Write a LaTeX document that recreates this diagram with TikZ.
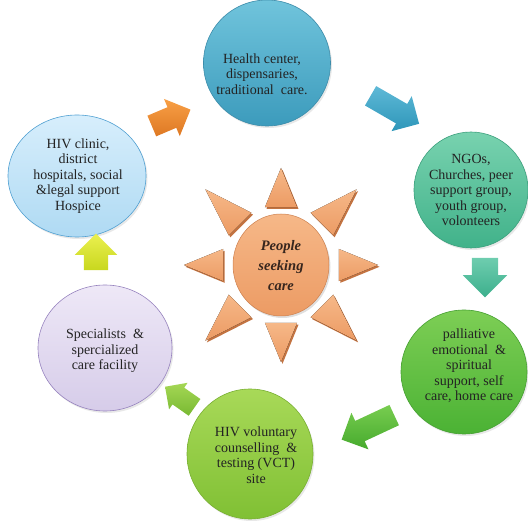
\documentclass[tikz,border=0pt]{standalone}
\usepackage{fontspec}
\setmainfont{Liberation Serif}
\usetikzlibrary{shapes.geometric,shapes.arrows,shadows}
\definecolor{txt}{RGB}{35,35,35}
\definecolor{hcT}{RGB}{112,196,220}\definecolor{hcB}{RGB}{60,155,188}\definecolor{hcE}{RGB}{60,140,170}
\definecolor{ngT}{RGB}{120,210,175}\definecolor{ngB}{RGB}{65,178,138}\definecolor{ngE}{RGB}{60,160,125}
\definecolor{paT}{RGB}{125,206,85}\definecolor{paB}{RGB}{75,178,52}\definecolor{paE}{RGB}{70,160,50}
\definecolor{vcT}{RGB}{168,217,88}\definecolor{vcB}{RGB}{128,192,52}\definecolor{vcE}{RGB}{120,175,50}
\definecolor{spT}{RGB}{238,232,247}\definecolor{spB}{RGB}{214,204,233}\definecolor{spE}{RGB}{150,130,190}
\definecolor{hvT}{RGB}{215,238,252}\definecolor{hvB}{RGB}{175,218,243}\definecolor{hvE}{RGB}{80,160,210}
\definecolor{suT}{RGB}{246,184,136}\definecolor{suB}{RGB}{236,155,100}\definecolor{suE}{RGB}{205,128,78}
\definecolor{suS}{RGB}{195,115,65}
\tikzset{
  bubble/.style={ellipse, inner sep=0pt, draw=#1E, line width=0.6pt, top color=#1T, bottom color=#1B,
     drop shadow={opacity=0.18, shadow xshift=1.5pt, shadow yshift=-2pt}},
  btext/.style={align=center, text=txt, font=\fontsize{14}{15.5}\selectfont, inner sep=0pt},
  barrow/.style={single arrow, draw=none, single arrow head extend=#1},
}
\begin{document}
\begin{tikzpicture}[x=1pt,y=-1pt]
\useasboundingbox (0,0) rectangle (528,521);
% circles
\node[bubble=hc, minimum width=127pt, minimum height=126pt] (hc) at (267,63) {};
\node[bubble=ng, minimum width=114pt, minimum height=116pt] (ng) at (471,190) {};
\node[bubble=pa, minimum width=126pt, minimum height=124pt] (pa) at (464,372) {};
\node[bubble=vc, minimum width=126pt, minimum height=130pt] (vc) at (250,454) {};
\node[bubble=sp, minimum width=134pt, minimum height=126pt] (sp) at (105,348) {};
\node[bubble=hv, minimum width=138pt, minimum height=122pt] (hv) at (77,176) {};
% texts
\node[btext] (thc) at (262,74) {Health center,\\dispensaries,\\traditional\ \ care.};
\node[btext] (tng) at (471,190) {NGOs,\\Churches, peer\\support group,\\youth group,\\volonteers};
\node[btext] (tpa) at (469,366) {palliative\\emotional\ \ \&\\spiritual\\support,\ self\\care, home care};
\node[btext] (tvc) at (256,455) {HIV voluntary\\counselling\ \ \&\\testing (VCT)\\site};
\node[btext] (tsp) at (105,351) {Specialists\ \ \&\\spercialized\\care facility};
\node[btext] (thv) at (78,176) {HIV clinic,\\district\\hospitals,\ social\\\&legal support\\Hospice};
% sun rays
\begin{scope}[shift={(281,265)}]
  \foreach \a/\R in {0/97,90/97,180/97,270/97,45/107,135/107,225/107,315/107}{
    \fill[suS] ([shift={(1.5,1.8)}]\a:\R) -- ([shift={(1.5,1.8)}]\a+15.5:60) -- ([shift={(1.5,1.8)}]\a-15.5:60) -- cycle;
    \fill[top color=suT, bottom color=suB] (\a:\R) -- (\a+15.5:60) -- (\a-15.5:60) -- cycle;
  }
\end{scope}
\node[ellipse, minimum width=96pt, minimum height=102pt, top color=suT, bottom color=suB, draw=suE, line width=0.5pt,
  drop shadow={opacity=0.25, shadow xshift=1.5pt, shadow yshift=-2pt}] (sun) at (281,265) {};
\node[align=center, text={rgb,255:red,55;green,38;blue,30}, font=\fontsize{14.5}{20}\selectfont\bfseries\itshape] (tsun) at (281,266) {People\\seeking\\care};
% block arrows
\node[barrow=9pt, inner sep=11pt, minimum height=42pt, top color={rgb,255:red,248;green,160;blue,70}, bottom color={rgb,255:red,222;green,120;blue,35}, rotate=23] (a1) at (166,120) {};
\node[barrow=9pt, inner sep=11pt, minimum height=56pt, top color={rgb,255:red,95;green,185;blue,215}, bottom color={rgb,255:red,45;green,150;blue,185}, rotate=-30] (a2) at (390,107) {};
\node[barrow=9pt, inner sep=13pt, minimum height=28pt, top color={rgb,255:red,110;green,205;blue,175}, bottom color={rgb,255:red,60;green,175;blue,140}, rotate=-90] (a3) at (485,271) {};
\node[barrow=9pt, inner sep=11pt, minimum height=58pt, top color={rgb,255:red,120;green,205;blue,80}, bottom color={rgb,255:red,70;green,170;blue,45}, rotate=205] (a4) at (373,425) {};
\node[barrow=6pt, inner sep=10pt, minimum height=36pt, top color={rgb,255:red,165;green,215;blue,85}, bottom color={rgb,255:red,120;green,185;blue,50}, rotate=145] (a5) at (184,400) {};
\node[barrow=9pt, inner sep=12pt, minimum height=30pt, top color={rgb,255:red,235;green,240;blue,80}, bottom color={rgb,255:red,200;green,215;blue,30}, rotate=90] (a6) at (96,258) {};
\end{tikzpicture}
\end{document}
